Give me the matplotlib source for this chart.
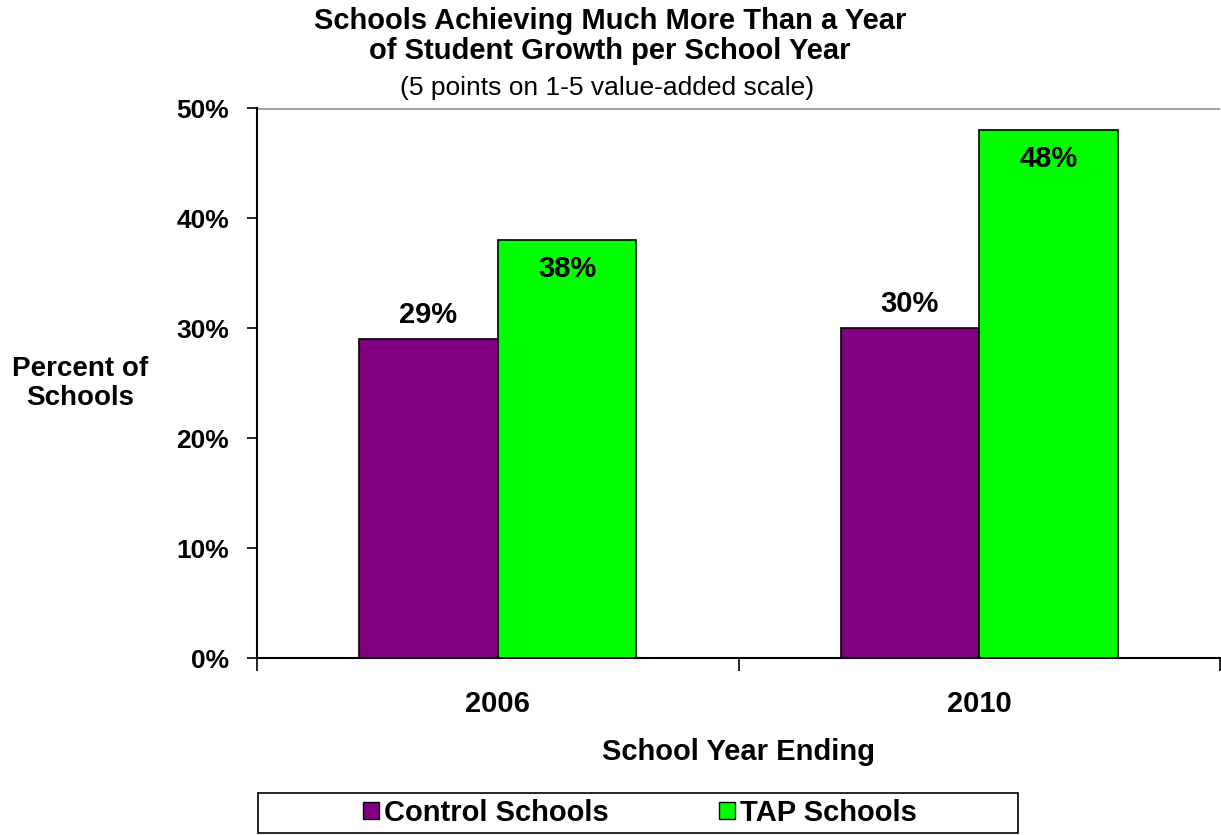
import matplotlib.pyplot as plt
from matplotlib.patches import Patch, Rectangle

plt.rcParams["font.family"] = ["Liberation Sans", "DejaVu Sans"]

# Share of schools scoring 5 on the 1-5 value-added scale
years = ["2006", "2010"]
control = [29, 30]
tap = [38, 48]
control_labels = ["29%", "30%"]
tap_labels = ["38%", "48%"]

purple = "#800080"
green = "#00ff00"

fig = plt.figure(figsize=(12.21, 8.35), dpi=100)
ax = fig.add_axes([257 / 1221, 177 / 835, 963 / 1221, 550 / 835])

width = 0.288
x = range(len(years))
x_ctrl = [i - width / 2 for i in x]
x_tap = [i + width / 2 for i in x]

ax.bar(x_ctrl, control, width, color=purple, edgecolor="black", linewidth=1.2, zorder=3)
ax.bar(x_tap, tap, width, color=green, edgecolor="black", linewidth=1.2, zorder=3)

# labels: control above the bar, TAP just inside the top
for xi, v, s in zip(x_ctrl, control, control_labels):
    ax.text(xi, v + 0.9, s, ha="center", va="bottom", fontsize=21, fontweight="bold")
for xi, v, s in zip(x_tap, tap, tap_labels):
    ax.text(xi, v - 1.4, s, ha="center", va="top", fontsize=21, fontweight="bold")

ax.set_xlim(-0.5, 1.5)
ax.set_ylim(0, 50)
ax.set_yticks(range(0, 51, 10))
ax.set_yticklabels([f"{t}%" for t in range(0, 51, 10)], fontsize=19, fontweight="bold")
ax.tick_params(axis="y", direction="out", length=7, width=1.2, pad=13)

# category ticks sit on the boundaries, names in the middle
ax.set_xticks([-0.5, 0.5, 1.5])
ax.set_xticklabels([])
ax.set_xticks(list(x), minor=True)
ax.set_xticklabels(years, minor=True, fontsize=21, fontweight="bold")
ax.tick_params(axis="x", which="major", direction="out", length=9, width=1.2)
ax.tick_params(axis="x", which="minor", length=0, pad=23)

ax.axhline(50, color="#a0a0a0", linewidth=2, zorder=1)
for side in ["top", "right"]:
    ax.spines[side].set_visible(False)
ax.spines["left"].set_linewidth(1.5)
ax.spines["bottom"].set_linewidth(1.5)

fig.text(739 / 1221, 1 - 752 / 835, "School Year Ending", ha="center", va="center",
         fontsize=21, fontweight="bold")

fig.text(80 / 1221, 1 - 384 / 835, "Percent of\nSchools", ha="center", va="center",
         multialignment="center", fontsize=20, fontweight="bold", linespacing=1.15)

fig.text(610 / 1221, 1 - 36 / 835, "Schools Achieving Much More Than a Year\nof Student Growth per School Year",
         ha="center", va="center", fontsize=21, fontweight="bold", linespacing=1.1)
fig.text(607 / 1221, 1 - 88 / 835, "(5 points on 1-5 value-added scale)",
         ha="center", va="center", fontsize=19)

# legend entries without their own frame, boxed by a wide rectangle
handles = [Patch(facecolor=purple, edgecolor="black", label="Control Schools"),
           Patch(facecolor=green, edgecolor="black", label="TAP Schools")]
fig.legend(handles=handles, loc="center", bbox_to_anchor=(640 / 1221, 1 - 813 / 835),
           ncol=2, frameon=False, prop={"size": 21, "weight": "bold"},
           handlelength=0.55, handleheight=0.55, handletextpad=0.15,
           columnspacing=3.8, borderpad=0, borderaxespad=0)
fig.patches.append(Rectangle((258 / 1221, 1 - 833 / 835), 760 / 1221, 40 / 835,
                             transform=fig.transFigure, fill=False,
                             edgecolor="black", linewidth=1.2))

fig.savefig("out.png", dpi=100)
